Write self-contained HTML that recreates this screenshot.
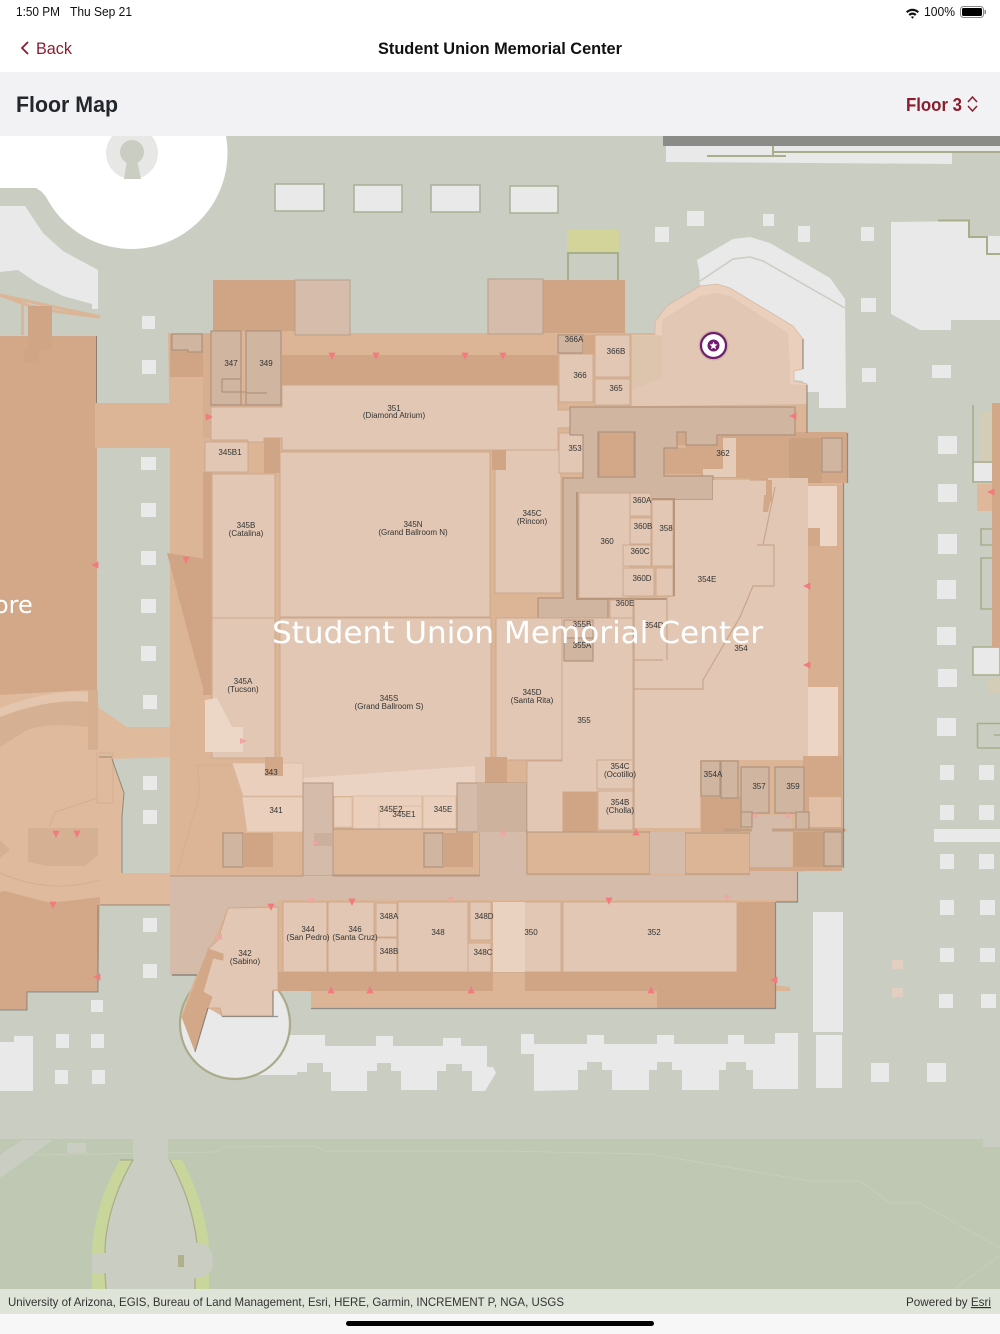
<!DOCTYPE html>
<html><head><meta charset="utf-8"><title>Floor Map</title>
<style>
html,body{margin:0;padding:0;background:#fff;width:1000px;height:1334px;overflow:hidden}
svg{display:block}
text{font-family:"Liberation Sans",sans-serif}
.w{fill:#e8e9e8}
.b{fill:#dbb596}
.d{fill:#cfa586}
.r{fill:#e2c8b4;stroke:#cda88c;stroke-width:1}
.l{fill:#eacfbc;stroke:#d9b89f;stroke-width:.8}
.s{fill:#d0b5a1;stroke:#b0937e;stroke-width:1.2}
.g{fill:#d5bbaa}
.e{fill:#dbb596;stroke:#b5977f;stroke-width:1}
.t text,text.t{font-size:8px;fill:#333;text-anchor:middle}
.m polygon{fill:#f27b7f;stroke:#f27b7f;stroke-width:.8}
.o{fill:none;stroke:#a9ad8c;stroke-width:1.6}
</style></head><body>
<svg width="1000" height="1334" viewBox="0 0 1000 1334" xmlns="http://www.w3.org/2000/svg">
<rect width="1000" height="1334" fill="#fff"/>
<!-- map ground -->
<rect y="136" width="1000" height="1154" fill="#c9cdc2"/>
<rect y="1139" width="1000" height="151" fill="#bec8b2"/>
<polygon points="0,1155 22,1140 53,1140 0,1178" fill="#c9cdc2"/>
<rect x="67" y="1143" width="19" height="10" fill="#c9cdc2"/>
<rect x="983" y="1138" width="17" height="9" fill="#c9cdc2"/>
<path d="M30 1155L215 1152 225 1147 315 1146 325 1151H500L650 1154 810 1181H860L890 1203H920L1000 1248M1000 1255L953 1290" fill="none" stroke="#c8cfbc" stroke-width="1"/>
<!-- top strip -->
<polygon points="666,146 1000,146 1000,153 952,153 952,164 666,162" fill="#e8e9e8"/>
<rect x="663" y="136" width="337" height="10" fill="#8b8b87"/>
<path d="M707 156H786M773 146V156M773 152H1000" fill="none" stroke="#a9ad8c" stroke-width="2"/>
<!-- plaza circle -->
<circle cx="131.500" cy="153" r="96" fill="#fff"/>
<polygon points="0,136 60,136 60,205 47,198 42,192 36,188 0,188" fill="#fff"/>
<circle cx="132" cy="153" r="26" fill="#e7e8e6"/>
<circle cx="132" cy="152" r="12" fill="#c9cdc2"/>
<polygon points="127,160 137,160 141,179 124,179" fill="#c9cdc2"/>
<!-- top left white -->
<polygon points="0,206 25,206 43,233 63,251 98,270 98,309 92,309 92,304 63,296 37,283 18,270 0,272" class="w"/>
<!-- rectangles top -->
<g fill="#e8e9e8" stroke="#a9b095" stroke-width="1.5">
<rect x="275" y="184" width="49" height="27"/>
<rect x="354" y="185" width="48" height="27"/>
<rect x="431" y="185" width="49" height="27"/>
<rect x="510" y="186" width="48" height="27"/>
</g>
<rect x="567" y="230" width="52" height="22" fill="#d3d49a"/>
<path d="M568 280V253H618V280" fill="none" stroke="#a8ad8c" stroke-width="2"/>
<!-- NE white -->
<polygon points="697,260 733,239 750,237 770,243 830,278 845,299 846,408 819,408 819,392 807,392 803,381 794,380 794,371 803,369 803,339 717,284 700,286 699,270" class="w"/>
<path d="M700 281L733 259 750 257 763 261 845 308" fill="none" stroke="#c9cdc2" stroke-width="1.500"/>
<polygon points="891,222 969,221 969,237 987,237 987,254 1000,254 1000,320 951,320 951,330 920,330 891,314" class="w"/>
<rect x="988" y="236" width="12" height="17" class="w"/>
<path d="M938 220.500H969V237H987V254H1000" fill="none" stroke="#a9ad8c" stroke-width="2"/>
<!-- small squares -->
<g class="w">
<rect x="655" y="227" width="14" height="15"/><rect x="687" y="211" width="17" height="15"/><rect x="763" y="214" width="11" height="12"/><rect x="798" y="226" width="12" height="16"/><rect x="861" y="227" width="13" height="14"/><rect x="861" y="298" width="15" height="14"/><rect x="862" y="368" width="14" height="14"/><rect x="932" y="365" width="19" height="13"/>
<rect x="142" y="316" width="13" height="13"/><rect x="142" y="360" width="14" height="14"/>
<rect x="141" y="457" width="15" height="13"/><rect x="141" y="503" width="15" height="14"/><rect x="141" y="551" width="15" height="14"/><rect x="141" y="599" width="15" height="14"/><rect x="141" y="646" width="15" height="15"/><rect x="143" y="695" width="14" height="14"/><rect x="143" y="776" width="14" height="14"/><rect x="143" y="810" width="14" height="14"/><rect x="143" y="918" width="14" height="14"/><rect x="143" y="964" width="14" height="14"/>
<rect x="91" y="1000" width="12" height="12"/><rect x="56" y="1034" width="13" height="14"/><rect x="91" y="1034" width="13" height="14"/><rect x="55" y="1070" width="13" height="14"/><rect x="92" y="1070" width="13" height="14"/>
<rect x="938" y="436" width="19" height="18"/><rect x="938" y="484" width="19" height="18"/><rect x="938" y="534" width="19" height="20"/><rect x="937" y="580" width="19" height="19"/><rect x="937" y="627" width="19" height="18"/><rect x="938" y="669" width="19" height="18"/><rect x="937" y="718" width="19" height="18"/>
<rect x="940" y="765" width="14" height="15"/><rect x="940" y="805" width="14" height="15"/><rect x="940" y="854" width="14" height="15"/><rect x="940" y="900" width="14" height="15"/><rect x="940" y="948" width="14" height="14"/><rect x="939" y="994" width="14" height="14"/>
<rect x="979" y="765" width="15" height="15"/><rect x="979" y="805" width="15" height="15"/><rect x="979" y="854" width="15" height="15"/><rect x="980" y="900" width="15" height="15"/><rect x="980" y="948" width="15" height="14"/><rect x="981" y="994" width="15" height="14"/>
<rect x="934" y="829" width="66" height="13"/>
<rect x="813" y="912" width="30" height="120"/>
<rect x="816" y="1035" width="26" height="53"/>
<rect x="871" y="1063" width="18" height="19"/><rect x="927" y="1063" width="19" height="19"/>
<polygon points="0,1042 14,1042 14,1036 33,1036 33,1091 0,1091"/>
<polygon points="256,1091 256,1075 297,1075 297,1072 307,1072 307,1063 323,1063 323,1072 331,1072 331,1091 367,1091 367,1071 377,1071 377,1063 391,1063 391,1071 401,1071 401,1090 437,1090 437,1071 446,1071 446,1064 462,1064 462,1071 472,1071 472,1091 485,1091 496,1073 493,1067 487,1067 487,1046 461,1046 461,1038 443,1038 443,1046 393,1046 393,1036 376,1036 376,1046 325,1046 325,1035 270,1035 256,1060"/>
<polygon points="534,1091 534,1054 521,1054 521,1034 534,1034 534,1044 587,1044 587,1035 604,1035 604,1044 657,1044 657,1035 674,1035 674,1044 728,1044 728,1035 744,1035 744,1044 775,1044 775,1033 798,1033 798,1089 753,1089 753,1070 746,1070 746,1062 726,1062 726,1070 719,1070 719,1090 682,1090 682,1070 672,1070 672,1062 657,1062 657,1070 649,1070 649,1090 612,1090 612,1070 602,1070 602,1062 587,1062 587,1070 578,1070 578,1090"/>
</g>
<rect x="892" y="960" width="11" height="9" fill="#e2cfc1"/><rect x="892" y="988" width="11" height="9" fill="#e2cfc1"/>
<!-- east side structures -->
<path class="o" d="M973 405V482H992M973 462H992M992 529H981V545H992M992 558H981V609H992M977.500 748V723.500H1000M977.500 748H1000M994 735H1000"/>
<rect x="980" y="412" width="12" height="49" fill="#d3cdb8"/>
<rect x="974" y="463" width="18" height="18" class="w"/>
<rect x="977" y="484" width="15" height="27" fill="#dfb79a"/>
<rect x="973" y="647" width="27" height="28" fill="#e8e9e8" stroke="#a9ad8c" stroke-width="1.500"/>
<rect x="988" y="677" width="12" height="16" fill="#d3cdb8"/>
<rect x="992" y="403" width="8" height="244" fill="#d2a888"/>
<!-- bottom park -->
<rect x="133" y="1139" width="35" height="22" fill="#c9cdc2"/>
<path d="M120 1160L133 1160C115 1190 105 1225 105 1253H92C93 1220 105 1185 120 1160Z" fill="#c9d69b"/>
<rect x="92" y="1273" width="14" height="16" fill="#c9d69b"/>
<path d="M170 1160L182 1160C196 1185 207 1220 209 1247L197 1243C193 1210 183 1185 170 1160Z" fill="#c9d69b"/>
<rect x="195" y="1273" width="14" height="16" fill="#c9d69b"/>
<path d="M133 1160H170C183 1185 193 1210 197 1243C208 1243 213 1251 213 1262C213 1272 206 1278 195 1278V1289H106L105 1273H92V1253H105C105 1225 115 1190 133 1160Z" fill="#c9cdc2"/>
<path d="M120 1160H133C115 1190 105 1225 105 1253M105 1273L106 1289M170 1160C183 1185 193 1210 197 1243M195 1278V1289" fill="none" stroke="#a9ab8a" stroke-width="1.200"/>
<rect x="178" y="1255" width="6" height="12" fill="#b0b08a"/>
<!-- circle by 342 -->
<circle cx="235" cy="1024" r="55" fill="#e8e9e8" stroke="#a9ab8a" stroke-width="2.200"/>
<!-- west building -->
<polygon points="0,295 30,306 60,312 100,317" fill="none" stroke="#dbb596" stroke-width="3"/>
<rect x="21" y="305" width="3" height="30" fill="#dbb596"/>
<rect x="0" y="336" width="97" height="365" fill="#d2a888"/>
<rect x="28" y="306" width="24" height="44" fill="#cfa586"/>
<rect x="24" y="350" width="15" height="13" fill="#cfa586"/>
<rect x="95" y="403" width="76" height="45" fill="#dbb596"/>
<polygon points="0,695 88,690 97,695 99,708 127,727 170,727 170,757 112,759 124,793 122,817 122,873 170,873 170,905 98,905 50,905 0,892" fill="#dfba9c"/>
<path d="M0 708Q50 689 88 692L88 702Q50 698 0 717Z" fill="#e4c6ae"/>
<path d="M0 717Q50 698 88 702L88 727Q50 722 27 730L0 747Z" fill="#d6b093"/>
<rect x="88" y="690" width="10" height="60" fill="#d6ae90"/>
<polygon points="28,828 98,828 98,855 85,866 47,866 28,862" fill="#d6b092"/>
<polygon points="0,840 10,850 0,858" fill="#d6b092"/>
<polygon points="0,892 5,891 50,903 100,897 98,992 27,992 27,1010 0,1010" fill="#d2a888"/>
<path d="M97 753H113V803H97ZM97 798L55 812 49 827M0 873Q50 895 100 880" fill="none" stroke="#d6ae90" stroke-width="1"/>
<path d="M96.500 336V403M98 905V992H27V1010H0M112 759L124 793 122 817V873M99 757H112M100 905H170" fill="none" stroke="#63625c" stroke-width="1" opacity=".6"/>
<!-- main shell -->
<polygon points="168,333 213,333 213,280 350,280 350,333 488,333 488,280 625,280 625,333 655,333 655,322 667,306 700,286 717,284 730,288 793,326 803,339 803,369 794,371 794,381 807,384 807,433 847,433 847,483 843,483 843,828 848,830 843,833 843,868 797,872 797,902 775,902 775,985 790,987 790,991 775,991 775,1008 311,1008 311,991 273,991 273,1016 222,1016 208,1008 195,1052 181,1016 205,950 172,975 170,905 170,448" fill="#dbb596"/>
<path d="M197 765L200 793 177 873M197 765H232" fill="none" stroke="#d6ae90" stroke-width="1"/>
<!-- towers + bands -->
<rect x="213" y="280" width="82" height="51" class="d"/>
<rect x="543" y="280" width="82" height="53" class="d"/>
<rect x="295" y="280" width="55" height="55" fill="#d6bcaa" stroke="#b8a08c"/>
<rect x="488" y="279" width="55" height="55" fill="#d6bcaa" stroke="#b8a08c"/>
<rect x="282" y="355" width="276" height="30" class="d"/>
<rect x="170" y="334" width="33" height="43" class="d"/>
<polygon points="172,334 202,334 202,352 188,352 188,350 172,350" class="s"/>
<rect x="203" y="333" width="9" height="105" fill="#d6ae90"/>
<rect x="211" y="331" width="30" height="74" class="s"/>
<rect x="246" y="331" width="35" height="74" class="s"/>
<path d="M222 392V379H241M222 392H246M246 393H267M211 405H281" stroke="#b0937e" fill="none" stroke-width="1.200"/>
<!-- west wedge -->
<rect x="203" y="472" width="9" height="223" class="d"/>
<polygon points="167,553 212,560 213,693 205,695 190,640" class="d"/>
<!-- ballrooms and north -->
<polygon points="211,407 282,407 282,385 558,385 558,410 570,410 570,428 558,428 558,450 282,450 282,438 264,438 264,442 248,442 248,440 211,440" class="r"/>
<rect x="205" y="442" width="43" height="30" class="r"/>
<rect x="264" y="438" width="16" height="35" class="d"/>
<rect x="212" y="474" width="63" height="144" class="r"/>
<rect x="280" y="452" width="210" height="165" class="r"/>
<rect x="495" y="450" width="66" height="143" class="r"/>
<rect x="492" y="450" width="14" height="20" class="d"/>
<rect x="559" y="433" width="24" height="40" class="r"/>
<rect x="558" y="335" width="25" height="18" class="s"/>
<rect x="559" y="354" width="34" height="48" class="r"/>
<rect x="595" y="335" width="35" height="42" class="r"/>
<rect x="595" y="379" width="35" height="26" class="r"/>
<rect x="583" y="335" width="12" height="19" fill="#d2a888"/>
<!-- NE room -->
<polygon points="632,335 655,335 655,322 667,306 700,286 717,284 730,288 793,326 803,339 803,369 794,371 794,381 807,384 807,404 632,406" fill="#e9cfbc" stroke="#d9b89f" stroke-width=".8"/>
<polygon points="632,335 662,335 662,320 700,296 717,293 730,296 788,333 790,366 790,384 806,385 806,404 632,406" fill="#e2c8b4"/>
<polygon points="632,336 662,336 662,378 632,390" fill="#dcc3aa" opacity=".7"/>
<!-- dark east zone -->
<polygon points="664,448 686,448 686,445 717,445 717,432 847,432 847,483 770,483 770,480 736,478 703,478 700,474 664,474" fill="#d2a888"/>
<rect x="677" y="432" width="9" height="13" fill="#d2a888"/>
<rect x="599" y="432" width="35" height="45" fill="#d2a888" stroke="#b8967c"/>
<polygon points="723,438 736,438 736,477 703,477 703,469 723,469" fill="#e5ccb9"/>
<rect x="789" y="438" width="33" height="45" fill="#c9a180"/>
<rect x="822" y="438" width="20" height="34" class="s"/>
<!-- gray corridors -->
<path d="M570 407H795V435H717V445H686V432H677V448H664V476H713V500H579V598H608V618H563V627H548V618H538V598H563V478H583V435H570ZM598 432H635V477H598Z" fill="#d0b5a1" stroke="#b0937e" stroke-width="1.200" fill-rule="evenodd"/>
<!-- room clusters -->
<rect x="579" y="493" width="51" height="105" class="r"/>
<rect x="630" y="493" width="21" height="23" class="r"/>
<rect x="630" y="518" width="21" height="26" class="r"/>
<rect x="623" y="545" width="28" height="21" class="r"/>
<rect x="652" y="500" width="21" height="66" class="r"/>
<rect x="623" y="568" width="31" height="28" class="r"/>
<rect x="656" y="568" width="17" height="28" class="r"/>
<path d="M577 492V599H674V499H652" stroke="#b8967c" stroke-width="2" fill="none"/>
<!-- 354 -->
<polygon points="713,500 713,480 768,480 768,478 808,478 808,756 803,760 700,760 700,828 634,828 634,618 634,600 667,600 667,598 675,596 675,500" fill="#e2c8b4"/>
<rect x="610" y="600" width="23" height="18" class="r"/>
<path d="M775 487L763 545M757 545H774V586H753L740 617 703 680V689H634M634 660H663M634 598V830M667 598V660M750 480L768 480" fill="none" stroke="#c8a58c" stroke-width="1.200"/>
<rect x="766" y="480" width="6" height="22" fill="#d2a888"/>
<polygon points="764,495 772,495 768,512 763,512" fill="#d2a888"/>
<!-- east strip -->
<rect x="808" y="485" width="34" height="345" fill="#d8b091"/>
<rect x="808" y="486" width="29" height="60" fill="#ecd5c4"/>
<rect x="808" y="528" width="12" height="18" fill="#d2a888"/>
<rect x="808" y="687" width="30" height="69" fill="#ecd5c4"/>
<rect x="803" y="756" width="39" height="72" fill="#d2a888"/>
<rect x="809" y="797" width="32" height="30" fill="#e0bfa6"/>
<!-- 355 -->
<polygon points="564,618 633,618 633,792 597,792 597,792 563,792 563,832 527,832 527,761 562,761 562,618" class="r"/>
<rect x="597" y="760" width="36" height="29" class="r"/>
<rect x="598" y="791" width="35" height="39" class="r"/>
<rect x="563" y="792" width="34" height="40" class="d"/>
<rect x="564" y="620" width="29" height="18" fill="#dcc2ae" stroke="#b0937e"/>
<rect x="564" y="638" width="29" height="23" class="s"/>
<!-- SW ballroom area -->
<rect x="212" y="618" width="63" height="140" class="r"/>
<polygon points="205,700 217,698 232,727 243,727 243,752 205,752" fill="#ecd7c7"/>
<rect x="280" y="618" width="211" height="165" class="r"/>
<rect x="496" y="618" width="66" height="142" class="r"/>
<rect x="485" y="757" width="22" height="26" class="d"/>
<polygon points="303,778 475,766 475,796 303,796" fill="#ead3c2"/>
<polygon points="232,763 303,763 303,796 243,796" class="l"/>
<polygon points="242,797 303,797 303,832 247,832" class="l"/>
<rect x="265" y="757" width="18" height="19" fill="#d2a888"/>
<rect x="334" y="797" width="18" height="30" class="l"/>
<rect x="353" y="796" width="69" height="35" class="l"/>
<rect x="379" y="806" width="43" height="25" class="l"/>
<rect x="423" y="796" width="33" height="35" class="l"/>
<!-- south mid -->
<rect x="212" y="832" width="91" height="44" fill="#dbb596"/>
<rect x="333" y="829" width="147" height="46" class="e"/>
<rect x="527" y="832" width="123" height="42" class="e"/>
<rect x="685" y="833" width="65" height="41" class="e"/>
<rect x="223" y="833" width="20" height="34" class="s"/>
<rect x="243" y="833" width="30" height="34" class="d"/>
<rect x="424" y="833" width="19" height="34" class="s"/>
<rect x="443" y="833" width="30" height="34" class="d"/>
<!-- service corridors -->
<rect x="303" y="783" width="30" height="93" fill="#d5bbaa" stroke="#b5977f"/>
<rect x="314" y="833" width="18" height="13" fill="#ccb09c"/>
<rect x="457" y="783" width="69" height="49" fill="#d5bbaa" stroke="#b5977f"/>
<rect x="477" y="783" width="49" height="50" fill="#cdb29e"/>
<rect x="480" y="832" width="46" height="44" class="g"/>
<rect x="650" y="832" width="35" height="42" class="g"/>
<polygon points="750,815 792,815 792,872 775,872 797,872 797,900 170,900 170,876 750,876" class="g"/>
<polygon points="170,876 170,975 197,975 228,908 278,905 278,900 170,900" fill="#d5bbaa"/>
<path d="M172 975H197" stroke="#7a7a70" stroke-width="1.200"/>
<path d="M170 876H303M333 876H480M527 874H650M685 874H750" stroke="#b5977f" fill="none"/>
<!-- 354A etc -->
<rect x="701" y="797" width="40" height="35" class="d"/>
<rect x="701" y="761" width="19" height="35" class="s"/>
<rect x="721" y="761" width="17" height="37" class="s"/>
<rect x="741" y="767" width="28" height="46" class="s"/>
<rect x="775" y="767" width="29" height="46" class="s"/>
<rect x="741" y="812" width="11" height="15" class="s"/>
<rect x="796" y="812" width="13" height="17" class="s"/>
<rect x="793" y="832" width="49" height="35" fill="#c9a180"/>
<rect x="824" y="832" width="18" height="34" class="s"/>
<rect x="750" y="867" width="92" height="4" fill="#d2a888"/>
<path d="M724 830H752M772 830H845" stroke="#c29e83" stroke-width="3"/>
<!-- south rooms -->
<polygon points="228,908 278,907 278,990 273,990 273,1016 222,1016 220,1008 208,1008 212,997 203,992 213,958 223,960 223,954 208,949 218,940" class="r"/>
<polygon points="208,949 182,1017 195,1052 212,997 203,992 213,958 223,960 223,954" fill="#d2a888"/>
<rect x="283" y="902" width="44" height="70" class="r"/>
<rect x="328" y="902" width="46" height="70" class="r"/>
<rect x="376" y="903" width="21" height="34" class="r"/>
<rect x="376" y="938" width="21" height="34" class="r"/>
<rect x="398" y="902" width="70" height="70" class="r"/>
<rect x="470" y="902" width="21" height="38" class="r"/>
<rect x="468" y="943" width="23" height="29" class="r"/>
<rect x="493" y="902" width="68" height="70" class="r"/>
<rect x="493" y="902" width="32" height="70" fill="#e9d2c0"/>
<rect x="563" y="902" width="174" height="70" class="r"/>
<rect x="278" y="972" width="215" height="19" class="d"/>
<rect x="525" y="972" width="250" height="19" class="d"/>
<rect x="737" y="902" width="38" height="106" class="d"/>
<rect x="657" y="991" width="118" height="17" class="d"/>
<!-- outer shadows -->
<path d="M311 1008.500H775.500V902M797.500 872V902H776M843.500 483V868M847.500 433V483M807 385V433M278 1016.500H222M273 991V1016M208 1008L195 1052M803 339V369" fill="none" stroke="#72706a" stroke-width="1.200" opacity=".7"/>
<!-- labels -->
<g class="t">
<text x="231" y="366">347</text><text x="266" y="366">349</text>
<text x="394" y="411">351</text><text x="394" y="418">(Diamond Atrium)</text>
<text x="230" y="455">345B1</text>
<text x="246" y="528">345B</text><text x="246" y="536">(Catalina)</text>
<text x="413" y="527">345N</text><text x="413" y="535">(Grand Ballroom N)</text>
<text x="532" y="516">345C</text><text x="532" y="524">(Rincon)</text>
<text x="574" y="342">366A</text><text x="616" y="354">366B</text><text x="580" y="378">366</text><text x="616" y="391">365</text>
<text x="575" y="451">353</text><text x="723" y="456">362</text>
<text x="607" y="544">360</text><text x="642" y="503">360A</text><text x="643" y="529">360B</text><text x="640" y="554">360C</text><text x="666" y="531">358</text><text x="642" y="581">360D</text><text x="625" y="606">360E</text>
<text x="707" y="582">354E</text><text x="654" y="628">354D</text><text x="741" y="651">354</text>
<text x="582" y="627">355B</text><text x="582" y="648">355A</text>
<text x="243" y="684">345A</text><text x="243" y="692">(Tucson)</text>
<text x="389" y="701">345S</text><text x="389" y="709">(Grand Ballroom S)</text>
<text x="532" y="695">345D</text><text x="532" y="703">(Santa Rita)</text>
<text x="584" y="723">355</text>
<text x="620" y="769">354C</text><text x="620" y="777">(Ocotillo)</text>
<text x="620" y="805">354B</text><text x="620" y="813">(Cholla)</text>
<text x="713" y="777">354A</text><text x="759" y="789">357</text><text x="793" y="789">359</text>
<text x="271" y="775">343</text><text x="276" y="813">341</text>
<text x="391" y="812">345E2</text><text x="404" y="817">345E1</text><text x="443" y="812">345E</text>
<text x="308" y="932">344</text><text x="308" y="940">(San Pedro)</text>
<text x="355" y="932">346</text><text x="355" y="940">(Santa Cruz)</text>
<text x="389" y="919">348A</text><text x="389" y="954">348B</text><text x="438" y="935">348</text>
<text x="484" y="919">348D</text><text x="483" y="955">348C</text>
<text x="531" y="935">350</text><text x="654" y="935">352</text>
<text x="245" y="956">342</text><text x="245" y="964">(Sabino)</text>
</g>
<!-- markers -->
<g class="m">
<polygon points="329,353 335,353 332,359"/><polygon points="373,353 379,353 376,359"/><polygon points="462,353 468,353 465,359"/><polygon points="500,353 506,353 503,359"/>
<polygon points="206,414 206,420 212,417"/><polygon points="183,557 189,557 186,563"/><polygon points="92,565 98,562 98,568"/>
<polygon points="240,738 240,744 247,741" style="fill:#f3a3a3;stroke:none"/><polygon points="53,831 59,831 56,837"/><polygon points="74,831 80,831 77,837"/><polygon points="50,902 56,902 53,908"/>
<polygon points="268,904 274,904 271,910"/><polygon points="308,898 314,898 311,904" style="fill:#f3a3a3;stroke:none"/><polygon points="349,899 355,899 352,905"/><polygon points="448,897 454,897 451,903" style="fill:#f3a3a3;stroke:none"/><polygon points="606,898 612,898 609,904"/><polygon points="724,895 730,895 727,901" style="fill:#f3a3a3;stroke:none"/>
<polygon points="216,937 222,934 222,940" style="fill:#f3a3a3;stroke:none"/>
<polygon points="328,993 334,993 331,987"/><polygon points="367,993 373,993 370,987"/><polygon points="468,993 474,993 471,987"/><polygon points="648,993 654,993 651,987"/>
<polygon points="500,835 506,835 503,829" style="fill:#f3a3a3;stroke:none"/><polygon points="633,835 639,835 636,829"/>
<polygon points="313,840 313,846 319,843" style="fill:#f3a3a3;stroke:none"/><polygon points="752,818 758,818 755,812" style="fill:#f3a3a3;stroke:none"/><polygon points="785,818 791,818 788,812" style="fill:#f3a3a3;stroke:none"/>
<polygon points="790,416 796,413 796,419"/><polygon points="804,586 810,583 810,589"/><polygon points="804,665 810,662 810,668"/><polygon points="771,980 777,977 777,983"/><polygon points="988,492 994,489 994,495"/><polygon points="94,977 100,974 100,980"/>
</g>
<!-- map watermark labels -->
<text x="272" y="643" textLength="491" lengthAdjust="spacingAndGlyphs" font-size="30" fill="#fff" style="font-family:'DejaVu Sans',sans-serif">Student Union Memorial Center</text>
<text x="-6" y="613" font-size="24" fill="#fff" style="font-family:'DejaVu Sans',sans-serif">ore</text>
<!-- pin -->
<circle cx="713.500" cy="345.500" r="15" fill="#000" opacity=".1"/>
<circle cx="713.500" cy="345.500" r="12.500" fill="#fff" stroke="#6f1d6f" stroke-width="2.200"/>
<circle cx="713.500" cy="345.500" r="6" fill="#6f1d6f"/>
<polygon points="713.5,341.5 714.6,344.3 717.5,344.5 715.3,346.4 716,349.3 713.5,347.7 711,349.3 711.7,346.4 709.5,344.5 712.4,344.3" fill="#fff"/>
<!-- attribution -->
<rect y="1289" width="1000" height="25" fill="#dfe4d8"/>
<text x="8" y="1306" font-size="12" fill="#333" textLength="556" lengthAdjust="spacingAndGlyphs">University of Arizona, EGIS, Bureau of Land Management, Esri, HERE, Garmin, INCREMENT P, NGA, USGS</text>
<text x="906" y="1306" font-size="12" fill="#333" textLength="85" lengthAdjust="spacingAndGlyphs">Powered by <tspan text-decoration="underline">Esri</tspan></text>
<rect y="1314" width="1000" height="20" fill="#f7f7f7"/>
<rect x="346" y="1321" width="308" height="5" rx="2.500" fill="#000"/>
<!-- header -->
<rect y="0" width="1000" height="72" fill="#fff"/>
<text x="16" y="16" font-size="12.500" fill="#111" textLength="44" lengthAdjust="spacingAndGlyphs">1:50 PM</text>
<text x="70" y="16" font-size="12.500" fill="#111" textLength="62" lengthAdjust="spacingAndGlyphs">Thu Sep 21</text>
<path d="M906 11.500a9 9 0 0 1 13 0l-1.500 1.600a7 7 0 0 0-10 0ZM908.500 14.300a5.400 5.400 0 0 1 8 0l-1.500 1.600a3.200 3.200 0 0 0-5 0ZM911 17a2 2 0 0 1 3 0l-1.500 1.700Z" fill="#111"/>
<text x="924" y="16" font-size="12.500" fill="#111" textLength="31" lengthAdjust="spacingAndGlyphs">100%</text>
<rect x="960.500" y="6.500" width="23" height="11" rx="3" fill="none" stroke="#888"/>
<rect x="962" y="8" width="20" height="8" rx="1.500" fill="#000"/>
<rect x="984.500" y="10" width="1.500" height="4" fill="#888"/>
<path d="M28 42L22 48L28 54" fill="none" stroke="#8c1d2f" stroke-width="1.800"/>
<text x="36" y="54" font-size="17" fill="#8c1d2f" textLength="36" lengthAdjust="spacingAndGlyphs">Back</text>
<text x="500" y="54" font-size="17" font-weight="700" fill="#111" text-anchor="middle" textLength="244" lengthAdjust="spacingAndGlyphs">Student Union Memorial Center</text>
<rect y="72" width="1000" height="64" fill="#f2f2f4"/>
<text x="16" y="112" font-size="22" font-weight="700" fill="#23262a" textLength="102" lengthAdjust="spacingAndGlyphs">Floor Map</text>
<text x="906" y="111" font-size="18" font-weight="700" fill="#8c1d2f" textLength="56" lengthAdjust="spacingAndGlyphs">Floor 3</text>
<path d="M968 102L972.500 97L977 102M968 106L972.500 111L977 106" fill="none" stroke="#8c1d2f" stroke-width="1.500"/>
</svg>
</body></html>
